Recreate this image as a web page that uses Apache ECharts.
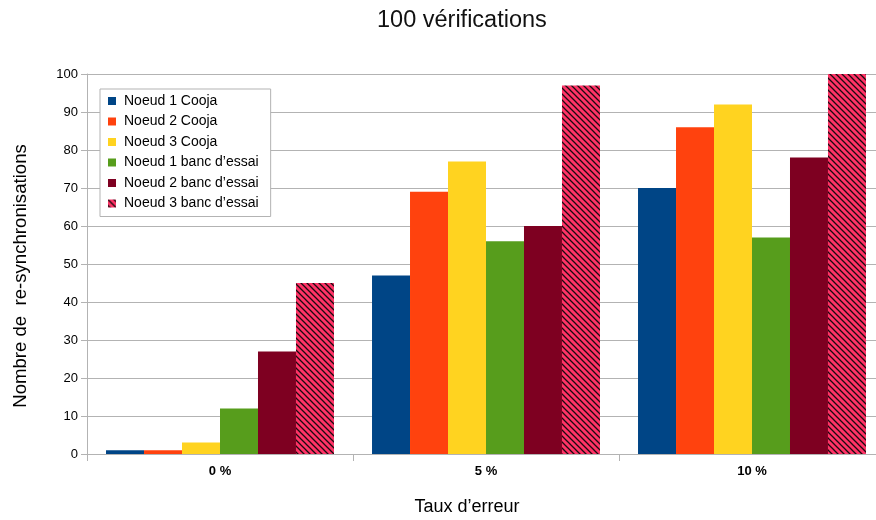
<!DOCTYPE html>
<html><head><meta charset="utf-8">
<script src="https://cdn.jsdelivr.net/npm/echarts@6/dist/echarts.min.js"></script>
<style>html,body{margin:0;padding:0;background:#fff;overflow:hidden}#c{width:876px;height:520px}</style>
</head><body><div id="c"></div>
<script>
const categories = ['0 %', '5 %', '10 %'];
const seriesNames = ['Noeud 1 Cooja', 'Noeud 2 Cooja', 'Noeud 3 Cooja', 'Noeud 1 banc d\u2019essai', 'Noeud 2 banc d\u2019essai', 'Noeud 3 banc d\u2019essai'];
const noeud1Cooja = [1, 47, 70];
const noeud2Cooja = [1, 69, 86];
const noeud3Cooja = [3, 77, 92];
const noeud1Banc = [12, 56, 57];
const noeud2Banc = [27, 60, 78];
const noeud3Banc = [45, 97, 100];
const yTicks = {min: 0, max: 100, interval: 10};

function stripePattern() {
  const s = 6;
  const cv = document.createElement('canvas');
  cv.width = s; cv.height = s;
  const ctx = cv.getContext('2d');
  ctx.fillStyle = '#ff3366';
  ctx.fillRect(0, 0, s, s);
  ctx.strokeStyle = '#1a0a10';
  ctx.lineWidth = 1.3;
  ctx.beginPath();
  ctx.moveTo(0, 0); ctx.lineTo(s, s);
  ctx.moveTo(-s, 0); ctx.lineTo(s, 2 * s);
  ctx.moveTo(0, -s); ctx.lineTo(2 * s, s);
  ctx.stroke();
  return {image: cv, repeat: 'repeat'};
}

const colors = ['#004586', '#ff420e', '#ffd320', '#579d1c', '#7e0021', stripePattern()];
const values = [noeud1Cooja, noeud2Cooja, noeud3Cooja, noeud1Banc, noeud2Banc, noeud3Banc];
const font = 'Liberation Sans';

const chart = echarts.init(document.getElementById('c'));
chart.setOption({
  animation: false,
  title: {text: '100 v\u00e9rifications', left: 372, top: 4,
    textStyle: {fontFamily: font, fontSize: 23.5, fontWeight: 'normal', color: '#111'}},
  legend: {
    orient: 'vertical', left: 100, top: 89,
    backgroundColor: '#fff', borderColor: '#b3b3b3', borderWidth: 1, borderRadius: 0,
    padding: [5, 12, 6, 8], itemWidth: 8, itemHeight: 8, itemGap: 6.5,
    icon: 'rect',
    textStyle: {fontFamily: font, fontSize: 14, color: '#000', padding: [0, 0, 0, 3]},
    data: seriesNames
  },
  grid: {left: 87, width: 798, top: 74, bottom: 66, containLabel: false, outerBoundsMode: 'none'},
  xAxis: {
    type: 'category', data: categories,
    name: 'Taux d\u2019erreur', nameLocation: 'middle', nameGap: 44,
    nameTextStyle: {fontFamily: font, fontSize: 18, color: '#000', padding: [0, 38, 0, 0]},
    axisLine: {lineStyle: {color: '#b3b3b3', width: 1}},
    axisTick: {show: true, length: 7, lineStyle: {color: '#b3b3b3'}},
    axisLabel: {fontFamily: font, fontSize: 13, fontWeight: 'bold', color: '#000', margin: 11}
  },
  yAxis: {
    type: 'value', min: yTicks.min, max: yTicks.max, interval: yTicks.interval,
    name: 'Nombre de  re-synchronisations', nameLocation: 'middle', nameGap: 57,
    nameTextStyle: {fontFamily: font, fontSize: 18.6, color: '#000', padding: [0, 24, 0, 0]},
    axisLine: {show: true, lineStyle: {color: '#b3b3b3'}},
    axisTick: {show: true, length: 6, lineStyle: {color: '#b3b3b3'}},
    axisLabel: {fontFamily: font, fontSize: 13, color: '#000', margin: 9},
    splitLine: {lineStyle: {color: '#b3b3b3', width: 1}}
  },
  series: seriesNames.map((n, i) => ({
    name: n, type: 'bar', data: values[i],
    barGap: '0%', barCategoryGap: '14.3%',
    itemStyle: {color: colors[i]}
  }))
});
</script></body></html>
